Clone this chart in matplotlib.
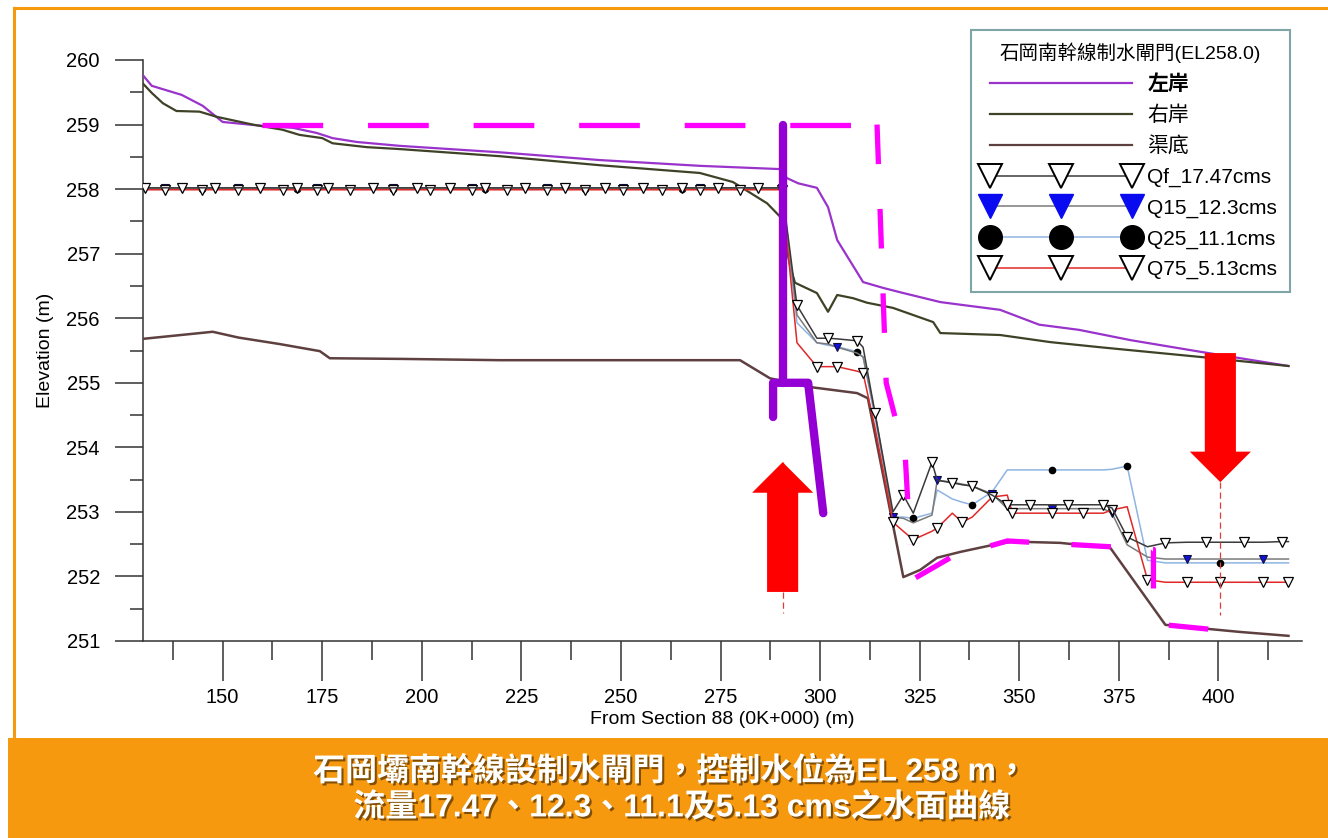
import matplotlib
matplotlib.use("Agg")
import matplotlib.pyplot as plt
import matplotlib.patheffects as pe
from matplotlib.lines import Line2D
from matplotlib.patches import Rectangle
from matplotlib.ticker import MultipleLocator

plt.rcParams['font.family'] = ['Liberation Sans', 'Noto Sans CJK TC', 'DejaVu Sans']
plt.rcParams['axes.unicode_minus'] = False

# cross sections in the gate pool (upstream of the gate)
sta_up = [130.4, 135.4, 139.9, 144.7, 148.0, 153.8, 159.3, 165.1, 168.6, 173.6, 176.4,
          181.9, 187.7, 192.7, 198.7, 202.0, 207.0, 212.6, 215.8, 221.4, 225.9, 231.4,
          235.9, 241.0, 246.0, 250.5, 255.5, 260.3, 265.3, 269.8, 274.4, 279.9, 284.4]
# cross sections from the gate to the end of the reach
sta_dn = [290.4, 294.2, 299.2, 302.0, 304.3, 309.3, 310.8, 313.8, 318.3, 320.9,
          323.4, 328.1, 329.4, 333.2, 335.7, 338.2, 343.2, 347.0, 348.3, 352.8,
          358.3, 362.3, 366.0, 371.1, 373.3, 377.1, 382.2, 386.7, 392.2, 397.0,
          400.5, 406.5, 411.3, 416.0, 417.6]
sta = sta_up + sta_dn

# water surface profiles (m)
ws_qf = [258.02, 258.02, 258.02, 258.02, 258.02, 258.02, 258.02, 258.02, 258.02, 258.02, 258.02,
         258.02, 258.02, 258.02, 258.02, 258.02, 258.02, 258.02, 258.02, 258.02, 258.02, 258.02,
         258.02, 258.02, 258.02, 258.02, 258.02, 258.02, 258.02, 258.02, 258.02, 258.02, 258.02,
         258.02, 256.20, 255.69, 255.69, 255.68, 255.65, 255.55, 254.53, 253.00, 253.26,
         252.98, 253.77, 253.49, 253.45, 253.42, 253.40, 253.26, 253.11, 253.11, 253.11,
         253.11, 253.11, 253.11, 253.11, 253.06, 252.61, 252.46, 252.52, 252.53, 252.53,
         252.53, 252.53, 252.53, 252.54, 252.54]
ws_q15 = [258.01, 258.01, 258.01, 258.01, 258.01, 258.01, 258.01, 258.01, 258.01, 258.01, 258.01,
          258.01, 258.01, 258.01, 258.01, 258.01, 258.01, 258.01, 258.01, 258.01, 258.01, 258.01,
          258.01, 258.01, 258.01, 258.01, 258.01, 258.01, 258.01, 258.01, 258.01, 258.01, 258.01,
          258.01, 256.05, 255.62, 255.60, 255.55, 255.46, 255.40, 254.53, 252.92, 252.90,
          252.83, 252.95, 253.49, 253.46, 253.43, 253.40, 253.28, 253.05, 253.05, 253.05,
          253.05, 253.05, 253.05, 253.05, 252.98, 252.49, 252.30, 252.27, 252.27, 252.27,
          252.27, 252.27, 252.27, 252.27, 252.27]
ws_q25 = [258.00, 258.00, 258.00, 258.00, 258.00, 258.00, 258.00, 258.00, 258.00, 258.00, 258.00,
          258.00, 258.00, 258.00, 258.00, 258.00, 258.00, 258.00, 258.00, 258.00, 258.00, 258.00,
          258.00, 258.00, 258.00, 258.00, 258.00, 258.00, 258.00, 258.00, 258.00, 258.00, 258.00,
          258.00, 255.93, 255.62, 255.58, 255.56, 255.48, 255.40, 254.45, 252.92, 252.92,
          252.90, 252.98, 253.34, 253.20, 253.15, 253.11, 253.31, 253.65, 253.65, 253.65,
          253.65, 253.65, 253.65, 253.65, 253.66, 253.71, 252.25, 252.21, 252.21, 252.21,
          252.21, 252.21, 252.21, 252.21, 252.21]
ws_q75 = [257.99, 257.99, 257.99, 257.99, 257.99, 257.99, 257.99, 257.99, 257.99, 257.99, 257.99,
          257.99, 257.99, 257.99, 257.99, 257.99, 257.99, 257.99, 257.99, 257.99, 257.99, 257.99,
          257.99, 257.99, 257.99, 257.99, 257.99, 257.99, 257.99, 257.99, 257.99, 257.99, 257.99,
          257.99, 255.62, 255.25, 255.25, 255.25, 255.18, 255.15, 254.30, 252.84, 252.70,
          252.57, 252.70, 252.75, 252.98, 252.84, 252.92, 253.23, 253.26, 252.98, 252.98,
          252.98, 252.98, 252.98, 252.98, 253.03, 253.08, 251.95, 251.91, 251.91, 251.91,
          251.91, 251.91, 251.91, 251.91, 251.91]

# left bank
lb_x = [129.9, 132.2, 139.7, 145.0, 150.0, 160.0, 167.6, 173.6, 177.6, 183.7, 194.5, 219.6,
        244.7, 270.0, 290.0, 291.7, 294.5, 299.2, 302.0, 304.3, 310.8, 315.8, 320.9, 330.2,
        336.4, 345.2, 355.0, 365.0, 378.0, 395.5, 417.6]
lb_z = [259.77, 259.60, 259.46, 259.29, 259.04, 258.98, 258.95, 258.87, 258.79, 258.73, 258.67,
        258.57, 258.45, 258.36, 258.31, 258.17, 258.09, 258.02, 257.72, 257.21, 256.56, 256.47,
        256.39, 256.25, 256.20, 256.13, 255.90, 255.82, 255.66, 255.48, 255.26]
# right bank
rb_x = [129.9, 132.2, 135.0, 138.4, 144.2, 148.5, 157.5, 165.0, 169.3, 175.0, 177.6, 186.2,
        194.5, 219.6, 244.7, 269.8, 278.1, 286.7, 290.0, 292.5, 293.7, 299.2, 302.0, 304.3,
        308.3, 311.8, 318.3, 328.4, 330.2, 345.2, 357.8, 370.4, 395.5, 417.6]
rb_z = [259.64, 259.49, 259.33, 259.21, 259.20, 259.12, 259.00, 258.92, 258.84, 258.79, 258.71,
        258.65, 258.62, 258.51, 258.37, 258.25, 258.11, 257.78, 257.57, 256.80, 256.55, 256.39,
        256.10, 256.36, 256.31, 256.24, 256.16, 255.94, 255.77, 255.74, 255.63, 255.55, 255.40,
        255.26]
# channel bed
bed_x = [129.9, 147.5, 154.0, 164.3, 174.4, 176.9, 194.5, 219.6, 279.9, 287.4, 296.7, 309.3,
         312.0, 320.9, 325.1, 329.4, 335.2, 343.5, 348.5, 360.3, 372.9, 386.7, 405.5, 417.6]
bed_z = [255.68, 255.79, 255.70, 255.60, 255.49, 255.38, 255.37, 255.35, 255.35, 255.07, 254.94,
         254.84, 254.76, 251.99, 252.10, 252.29, 252.38, 252.49, 252.54, 252.52, 252.44, 251.25,
         251.14, 251.08]

# sketch of the gate pool (dashed) and the gate itself
pool_top_x, pool_top_z = [160.0, 314.3], [259.0, 259.0]
pool_side_x, pool_side_z = [314.3, 316.6, 321.4, 322.6], [259.0, 255.0, 253.85, 252.5]
pool_bot_x = [324.0, 333.0, 347.0, 372.9, 383.7, 383.7, 386.7, 408.0]
pool_bot_z = [251.98, 252.30, 252.55, 252.46, 252.42, 251.70, 251.25, 251.12]
gate_stem_x, gate_stem_z = [290.6, 290.6], [259.0, 255.0]
gate_leaf_x, gate_leaf_z = [288.2, 288.2, 297.0, 300.8], [254.47, 255.0, 255.0, 252.98]
# (x, tail z, tip z, guide line end z)
arrows = [(290.6, 251.76, 253.77, 251.44), (400.5, 255.46, 253.46, 251.40)]

labels = ['左岸', '右岸', '渠底', 'Qf_17.47cms', 'Q15_12.3cms', 'Q25_11.1cms', 'Q75_5.13cms']
title = '石岡南幹線制水閘門(EL258.0)'
banner = ['石岡壩南幹線設制水閘門，控制水位為EL 258 m，',
          '流量17.47、12.3、11.1及5.13 cms之水面曲線']

c_lb, c_rb, c_bed = '#9933CC', '#3F4226', '#5E4040'
c_qf, c_q15, c_q25, c_q75 = '#3A3A3A', '#7A7A7A', '#8FB4E3', '#E02828'
orange = '#F7990F'

W, H = 1328, 838
fig = plt.figure(figsize=(W / 100, H / 100), dpi=100)
fig.patch.set_facecolor('white')
ax = fig.add_axes([143 / W, 1 - 641 / H, (1302 - 143) / W, (641 - 60) / H])

ax.plot(lb_x, lb_z, color=c_lb, lw=1.6, zorder=3)
ax.plot(rb_x, rb_z, color=c_rb, lw=1.6, zorder=3)
ax.plot(bed_x, bed_z, color=c_bed, lw=1.8, zorder=3)

ax.plot(sta, ws_q25, color=c_q25, lw=1.1, marker='o', ms=4.5, mfc='black', mec='black',
        markevery=(3, 5), zorder=4)
ax.plot(sta, ws_q15, color=c_q15, lw=1.1, marker='v', ms=5.5, mfc='#1010E0', mec='#101040',
        mew=0.8, markevery=(1, 4), zorder=4)
ax.plot(sta, ws_q75, color=c_q75, lw=1.1, marker='v', ms=6.5, mfc='white', mec='black',
        mew=0.9, markevery=(1, 2), zorder=4)
ax.plot(sta, ws_qf, color=c_qf, lw=1.1, marker='v', ms=6.5, mfc='white', mec='black',
        mew=0.9, markevery=(0, 2), zorder=5)

# dashed outline of the pool
ax.plot(pool_top_x, pool_top_z, color='#FF00FF', lw=3.8, ls=(0, (11.5, 8.5)), zorder=6)
ax.plot(pool_side_x, pool_side_z, color='#FF00FF', lw=3.8, ls=(0, (7.5, 8.5)), zorder=6)
ax.plot(pool_bot_x, pool_bot_z, color='#FF00FF', lw=3.8, ls=(0, (7.5, 8.0)), zorder=6)

# arrows and guide lines
for x, z0, z1, zg in arrows:
    ax.plot([x, x], [z1, zg], color='#E03A3A', lw=0.9, ls=(0, (5, 3)), zorder=6)
    ax.annotate('', xy=(x, z1), xytext=(x, z0),
                arrowprops=dict(arrowstyle='simple,head_length=1.1,head_width=2.2,tail_width=1.12',
                                mutation_scale=20, fc='#FF0000', ec='none', lw=0,
                                shrinkA=0, shrinkB=0), zorder=7)

# the gate
ax.plot(gate_stem_x, gate_stem_z, color='#9400D3', lw=6, solid_capstyle='round', zorder=8)
ax.plot(gate_leaf_x, gate_leaf_z, color='#9400D3', lw=6, solid_capstyle='round',
        solid_joinstyle='round', zorder=8)

ax.set_xlim(130, 421)
ax.set_ylim(251, 260)
ax.xaxis.set_major_locator(MultipleLocator(25))
ax.xaxis.set_minor_locator(MultipleLocator(12.5))
ax.yaxis.set_major_locator(MultipleLocator(1))
ax.yaxis.set_minor_locator(MultipleLocator(0.5))
for s in ('top', 'right'):
    ax.spines[s].set_visible(False)
for s in ('left', 'bottom'):
    ax.spines[s].set_color('#333333')
    ax.spines[s].set_linewidth(1.1)
ax.tick_params(axis='x', which='major', direction='out', length=29, width=1.1,
               color='#333333', labelsize=14.5, pad=5)
ax.tick_params(axis='x', which='minor', direction='out', length=14, width=1.1, color='#333333')
ax.tick_params(axis='y', which='major', direction='out', length=20, width=1.1,
               color='#333333', labelsize=14.5, pad=11)
ax.tick_params(axis='y', which='minor', direction='out', length=9.5, width=1.1, color='#333333')
ax.set_xlabel('From Section 88 (0K+000) (m)', fontsize=14, labelpad=3)
ax.set_ylabel('Elevation (m)', fontsize=14, labelpad=9)

handles = [
    Line2D([], [], color=c_lb, lw=1.6),
    Line2D([], [], color=c_rb, lw=1.6),
    Line2D([], [], color=c_bed, lw=1.6),
    Line2D([], [], color=c_qf, lw=1.1, marker='v', ms=17, mfc='white', mec='black', mew=1.4),
    Line2D([], [], color=c_q15, lw=1.1, marker='v', ms=17, mfc='#0A0AF0', mec='#0A0AF0', mew=1),
    Line2D([], [], color=c_q25, lw=1.1, marker='o', ms=17, mfc='black', mec='black'),
    Line2D([], [], color=c_q75, lw=1.1, marker='v', ms=17, mfc='white', mec='black', mew=1.4),
]
leg = ax.legend(handles, labels, title=title, loc='upper right',
                bbox_to_anchor=(1290 / W, 1 - 30 / H), bbox_transform=fig.transFigure,
                fontsize=15, title_fontsize=14, numpoints=3, handlelength=7.4,
                handletextpad=0.45, labelspacing=0.55, borderpad=0.6, borderaxespad=0,
                fancybox=False, framealpha=1, edgecolor='#7FA6A6')
leg.get_frame().set_linewidth(1.5)
leg.get_texts()[0].set_fontweight('bold')
leg.set_zorder(10)

# page frame and caption band
fig.add_artist(Line2D([14 / W, 14 / W], [1 - 740 / H, 1 - 8 / H], color=orange, lw=2.2))
fig.add_artist(Line2D([14 / W, 1], [1 - 8 / H, 1 - 8 / H], color=orange, lw=2.2))
fig.add_artist(Rectangle((8 / W, 0), 1, 100 / H, facecolor=orange, edgecolor='none',
                         transform=fig.transFigure))
shadow = [pe.SimplePatchShadow(offset=(1.5, -1.5), shadow_rgbFace='#5a3500', alpha=0.75),
          pe.Normal()]
fig.text(671 / W, 1 - 772 / H, banner[0], ha='center', va='center', fontsize=23,
         fontweight='bold', color='white', path_effects=shadow)
fig.text(682 / W, 1 - 808 / H, banner[1], ha='center', va='center', fontsize=23,
         fontweight='bold', color='white', path_effects=shadow)

fig.savefig('out.png', dpi=100, facecolor='white')
